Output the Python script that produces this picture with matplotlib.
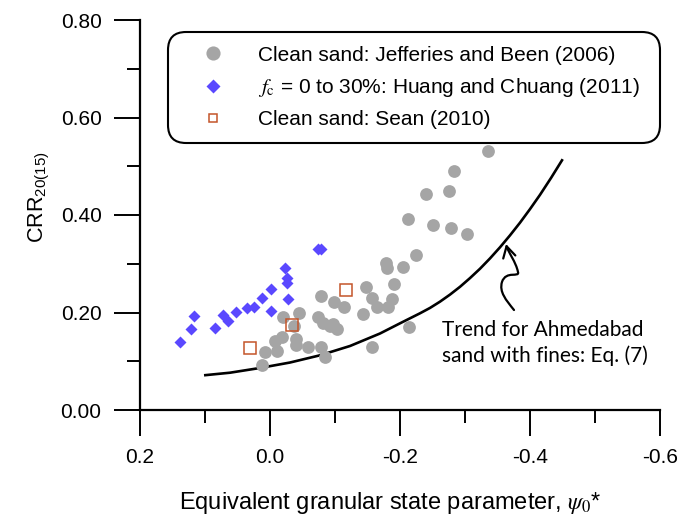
import matplotlib
matplotlib.use("Agg")
import matplotlib.pyplot as plt
from matplotlib.patches import FancyArrowPatch
from matplotlib.path import Path
from matplotlib.ticker import MultipleLocator, FormatStrFormatter

plt.rcParams["font.family"] = ["Liberation Sans", "DejaVu Sans"]
plt.rcParams["mathtext.fontset"] = "stix"
plt.rcParams["axes.unicode_minus"] = False

# Clean sand: Jefferies and Been (2006)
jb_psi = [0.0128, 0.0072, -0.0108, -0.0082, -0.018, -0.0195, -0.0395, -0.040,
          -0.0446, -0.058, -0.0734, -0.078, -0.0785, -0.0846, -0.082, -0.0923,
          -0.0974, -0.1026, -0.0985, -0.1133, -0.1436, -0.1477, -0.1574, -0.1564,
          -0.164, -0.336, -0.2836, -0.240, -0.275, -0.2123, -0.251, -0.2785,
          -0.3026, -0.224, -0.1785, -0.1805, -0.2041, -0.190, -0.1815, -0.1877,
          -0.2143, -0.037]
jb_crr = [0.092, 0.118, 0.122, 0.142, 0.150, 0.190, 0.145, 0.133,
          0.200, 0.130, 0.190, 0.233, 0.130, 0.109, 0.178, 0.172,
          0.176, 0.166, 0.222, 0.211, 0.197, 0.253, 0.130, 0.230,
          0.212, 0.532, 0.490, 0.443, 0.450, 0.391, 0.380, 0.373,
          0.362, 0.318, 0.301, 0.292, 0.293, 0.259, 0.212, 0.228,
          0.170, 0.172]

# fc = 0 to 30%: Huang and Chuang (2011)
hc_psi = [0.1385, 0.1215, 0.117, 0.0841, 0.0728, 0.0651, 0.0523, 0.0359, 0.0246,
          0.0123, -0.001, -0.001, -0.023, -0.0266, -0.0266, -0.0277, -0.0734, -0.0785]
hc_crr = [0.139, 0.166, 0.193, 0.168, 0.194, 0.183, 0.202, 0.209, 0.212,
          0.230, 0.249, 0.203, 0.292, 0.271, 0.261, 0.228, 0.331, 0.331]

# Clean sand: Sean (2010)
sean_psi = [0.0303, -0.0338, -0.1175]
sean_crr = [0.127, 0.175, 0.2455]

# Trend for Ahmedabad sand with fines, Eq. (7)
trend_psi = [0.1015, 0.0615, 0.0154, -0.0308, -0.0769, -0.1231, -0.1692, -0.2000,
             -0.2308, -0.2462, -0.2615, -0.2769, -0.2923, -0.3077, -0.3231,
             -0.3385, -0.3538, -0.3692, -0.3846, -0.4000, -0.4154, -0.4323, -0.4503]
trend_crr = [0.0712, 0.0765, 0.0862, 0.0974, 0.1122, 0.1313, 0.1569, 0.1778,
             0.1984, 0.2094, 0.2222, 0.2367, 0.2527, 0.2706, 0.2898,
             0.3110, 0.3337, 0.3582, 0.3842, 0.4121, 0.4414, 0.4759, 0.5145]

x_ticks = [0.2, 0.0, -0.2, -0.4, -0.6]
y_ticks = [0.0, 0.2, 0.4, 0.6, 0.8]

labels = ["Clean sand: Jefferies and Been (2006)",
          r"$f_\mathrm{c}$ = 0 to 30%: Huang and Chuang (2011)",
          "Clean sand: Sean (2010)"]

fig = plt.figure(figsize=(6.95, 5.16), dpi=100)
ax = fig.add_axes([140 / 695, 106 / 516, 520 / 695, 390 / 516])

gray = "#a5a5a5"
blue = "#5a48ff"
rust = "#c4552a"

ax.plot(jb_psi, jb_crr, ls="none", marker="o", ms=9.2, mfc=gray, mec="none",
        label=labels[0], zorder=3)
ax.plot(hc_psi, hc_crr, ls="none", marker="D", ms=6.3, mfc=blue, mec="none",
        label=labels[1], zorder=4)
ax.plot(sean_psi, sean_crr, ls="none", marker="s", ms=8.6, mfc="none", mec=rust,
        mew=1.1, label=labels[2], zorder=5)
ax.plot(trend_psi, trend_crr, color="black", lw=1.9, zorder=2,
        solid_joinstyle="round", solid_capstyle="butt")

ax.set_xlim(0.2, -0.6)
ax.set_ylim(0.0, 0.8)
ax.set_xticks(x_ticks)
ax.set_yticks(y_ticks)
ax.xaxis.set_minor_locator(MultipleLocator(0.1))
ax.yaxis.set_minor_locator(MultipleLocator(0.1))
ax.xaxis.set_major_formatter(FormatStrFormatter("%.1f"))
ax.yaxis.set_major_formatter(FormatStrFormatter("%.2f"))

for side in ("top", "right"):
    ax.spines[side].set_visible(False)
for side in ("left", "bottom"):
    ax.spines[side].set_linewidth(1.6)

ax.tick_params(which="major", direction="out", length=18.7, width=1.4,
               labelsize=15, pad=9)
ax.tick_params(which="minor", direction="out", length=9.4, width=1.4)

ax.set_ylabel(r"CRR$_{\mathregular{20(15)}}$", fontsize=15.5)
ax.yaxis.set_label_coords(-0.172, 0.545)
ax.set_xlabel(r"Equivalent granular state parameter, $\psi_0$*", fontsize=17)
ax.xaxis.set_label_coords(0.481, -0.204)

leg = ax.legend(loc="upper left", bbox_to_anchor=(0.05385, 0.0, 0.94615, 0.9692),
                mode="expand", borderaxespad=0.0, fontsize=15, numpoints=1,
                borderpad=0.65, labelspacing=0.54, handlelength=3.03,
                handletextpad=0.64, fancybox=True, framealpha=1.0,
                edgecolor="black")
frame = leg.get_frame()
frame.set_linewidth(1.5)
frame.set_boxstyle("round,pad=0,rounding_size=0.85")
leg.legend_handles[0].set_markersize(10.2)
leg.legend_handles[1].set_markersize(7.6)
leg.legend_handles[2].set_markersize(5.2)

ax.text(-0.2646, 0.1374, "Trend for Ahmedabad\nsand with fines: Eq. (7)",
        family=["Lato", "DejaVu Sans"], fontsize=15, ha="left", va="center",
        linespacing=1.38, zorder=6)

verts = [(-0.3754, 0.2051),
         (-0.3631, 0.2256), (-0.3523, 0.2421), (-0.3569, 0.2626),
         (-0.3631, 0.2872), (-0.3846, 0.2708), (-0.3815, 0.2831),
         (-0.3785, 0.3036), (-0.3662, 0.3241), (-0.3631, 0.3405)]
codes = [Path.MOVETO] + [Path.CURVE4] * 9
arrow = FancyArrowPatch(path=Path(verts, codes),
                        arrowstyle="->,head_length=8,head_width=4.5",
                        color="black", lw=1.6, zorder=6)
ax.add_patch(arrow)

fig.savefig("out.png", dpi=100)
